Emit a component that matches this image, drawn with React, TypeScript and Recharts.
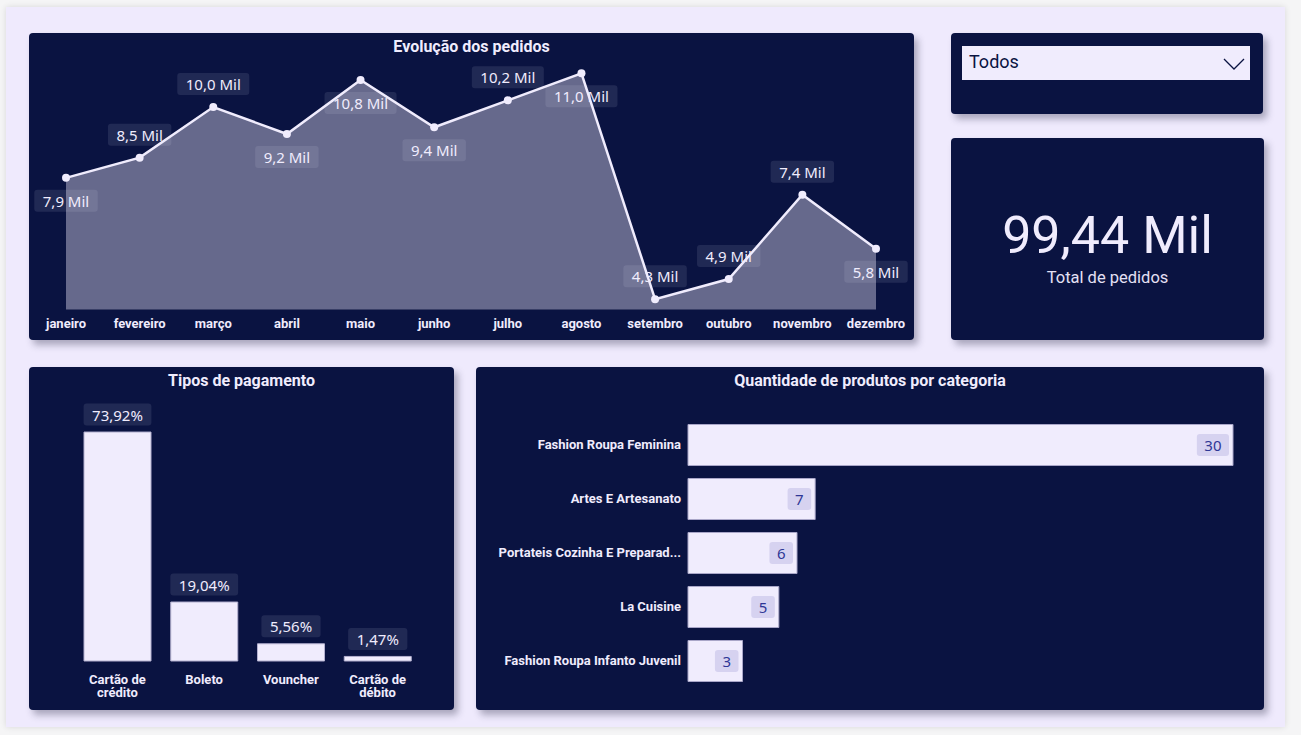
import React from 'react';
import { AreaChart, Area, BarChart, Bar, XAxis, YAxis, LabelList } from 'recharts';

// Evolução dos pedidos (milhares)
const MONTHS = ['janeiro', 'fevereiro', 'março', 'abril', 'maio', 'junho', 'julho', 'agosto', 'setembro', 'outubro', 'novembro', 'dezembro'];
const ORDERS_K = [7.9, 8.5, 10.0, 9.2, 10.8, 9.4, 10.2, 11.0, 4.3, 4.9, 7.4, 5.8];
// months whose label sits under the point (Power BI collision placement)
const LABEL_BELOW = ['janeiro', 'abril', 'maio', 'junho', 'agosto', 'dezembro'];

// Tipos de pagamento (%)
const PAYMENT_TYPES = ['Cartão de crédito', 'Boleto', 'Vouncher', 'Cartão de débito'];
const PAYMENT_SHARE = [73.92, 19.04, 5.56, 1.47];

// Quantidade de produtos por categoria
const CATEGORIES = ['Fashion Roupa Feminina', 'Artes E Artesanato', 'Portateis Cozinha E Preparadores De Alimentos', 'La Cuisine', 'Fashion Roupa Infanto Juvenil'];
const CATEGORY_QTY = [30, 7, 6, 5, 3];

const TOTAL_ORDERS_K = 99.44;
const SLICER_VALUE = 'Todos';

const NAVY = '#0a1341';
const LAVENDER = '#f0ecfd';
const DIN = "Roboto, 'Noto Sans', sans-serif";
const SEGOE = "'Noto Sans', 'Open Sans', sans-serif";
const LABEL_FONT = `15px 'Noto Sans'`;
const TICK_SIZE = 13;

const ordersData = MONTHS.map((m, i) => ({ mes: m, pedidos: ORDERS_K[i] }));
const paymentData = PAYMENT_TYPES.map((t, i) => ({ tipo: t, share: PAYMENT_SHARE[i] }));
const categoryData = CATEGORIES.map((c, i) => ({ categoria: c, qtd: CATEGORY_QTY[i] }));

const fmtMil = (v: number) => v.toFixed(1).replace('.', ',') + ' Mil';
const fmtPct = (v: number) => v.toFixed(2).replace('.', ',') + '%';

let ctx: CanvasRenderingContext2D | null = null;
const textWidth = (s: string, font: string) => {
  if (!ctx) ctx = document.createElement('canvas').getContext('2d');
  if (!ctx) return s.length * 8;
  ctx.font = font;
  return ctx.measureText(s).width;
};

const LabelBox = ({ cx, cy, text, pad = 8.5, bg = LAVENDER, bgOpacity = 0.1, color = LAVENDER }: any) => {
  const w = textWidth(text, LABEL_FONT) + pad * 2;
  const h = 22;
  return (
    <g>
      <rect x={cx - w / 2} y={cy - h / 2} width={w} height={h} rx={3} fill={bg} fillOpacity={bgOpacity} />
      <text x={cx} y={cy} textAnchor="middle" dominantBaseline="central" fill={color} fontSize={15} fontFamily={SEGOE}>
        {text}
      </text>
    </g>
  );
};

const OrdersLabel = (props: any) => {
  const x = props.x ?? props.viewBox?.x;
  const y = props.y ?? props.viewBox?.y;
  const below = LABEL_BELOW.includes(MONTHS[props.index]);
  return <LabelBox cx={x} cy={below ? y + 23 : y - 23} text={fmtMil(props.value)} />;
};

const MonthTick = ({ x, y, payload }: any) => (
  <text x={x} y={y + 14} textAnchor="middle" dominantBaseline="central" fill={LAVENDER} fontSize={TICK_SIZE} fontWeight={700} fontFamily={DIN}>
    {payload.value}
  </text>
);

const PaymentLabel = (props: any) => {
  const { x, y, width, value } = props;
  return <LabelBox cx={x + width / 2} cy={y - 6 - 11.5} text={fmtPct(value)} />;
};

const wrap = (s: string, max: number, font: string) => {
  const lines: string[] = [];
  let cur = '';
  s.split(' ').forEach((w) => {
    const next = cur ? cur + ' ' + w : w;
    if (cur && textWidth(next, font) > max) {
      lines.push(cur);
      cur = w;
    } else cur = next;
  });
  if (cur) lines.push(cur);
  return lines;
};

const PaymentTick = ({ x, y, payload }: any) => {
  const lines = wrap(payload.value, 64, `700 ${TICK_SIZE}px Roboto`);
  return (
    <text x={x} y={y + 19} textAnchor="middle" fill={LAVENDER} fontSize={TICK_SIZE} fontWeight={700} fontFamily={DIN}>
      {lines.map((l, i) => (
        <tspan key={i} x={x} dy={i === 0 ? 4 : 13}>
          {l}
        </tspan>
      ))}
    </text>
  );
};

const CategoryTick = ({ x, y, payload }: any) => {
  const s: string = payload.value;
  const text = s.length > 30 ? s.slice(0, 28) + '...' : s;
  return (
    <text x={x - 7} y={y} textAnchor="end" dominantBaseline="central" fill={LAVENDER} fontSize={TICK_SIZE} fontWeight={700} fontFamily={DIN}>
      {text}
    </text>
  );
};

const CategoryLabel = (props: any) => {
  const { x, y, width, height, value } = props;
  const text = String(value);
  const w = textWidth(text, LABEL_FONT) + 15;
  return <LabelBox cx={x + width - 4 - w / 2} cy={y + height / 2} text={text} pad={7.5} bg="#d6d2f0" bgOpacity={1} color="#2f3796" />;
};

const card = (left: number, top: number, width: number, height: number): React.CSSProperties => ({
  position: 'absolute',
  left,
  top,
  width,
  height,
  background: NAVY,
  borderRadius: 4,
  boxShadow: '4px 5px 7px rgba(40,40,70,0.35)',
});

const titleStyle: React.CSSProperties = {
  position: 'absolute',
  left: 0,
  right: 0,
  top: 3,
  textAlign: 'center',
  color: LAVENDER,
  fontFamily: DIN,
  fontWeight: 700,
  fontSize: 16,
  lineHeight: '21px',
  zIndex: 1,
};

export default function App() {
  return (
    <div style={{ position: 'absolute', left: 0, top: 0, width: 1301, height: 735, background: '#f5f5f6', overflow: 'hidden' }}>
      <div style={{ position: 'absolute', left: 6, top: 7, width: 1279, height: 720, background: '#efeafd', boxShadow: '0 0 6px rgba(0,0,0,0.12)' }} />

      {/* Evolução dos pedidos */}
      <div style={card(29, 33, 885, 307)}>
        <div style={titleStyle}>Evolução dos pedidos</div>
        <AreaChart width={885} height={307} data={ordersData} margin={{ top: 6.6, right: 38, bottom: 0, left: 37 }} style={{ position: 'absolute', left: 0, top: 0 }}>
          <XAxis dataKey="mes" axisLine={false} tickLine={false} tickSize={0} tickMargin={0} height={30.6} interval={0} tick={<MonthTick />} />
          <YAxis hide domain={[4, 12]} />
          <Area
            type="linear"
            dataKey="pedidos"
            baseValue="dataMin"
            stroke={LAVENDER}
            strokeWidth={2.5}
            fill={LAVENDER}
            fillOpacity={0.4}
            dot={{ r: 4, fill: LAVENDER, stroke: 'none', fillOpacity: 1 }}
            activeDot={false}
            isAnimationActive={false}
          >
            <LabelList dataKey="pedidos" content={OrdersLabel} />
          </Area>
        </AreaChart>
      </div>

      {/* Slicer */}
      <div style={card(951, 33, 312, 81)}>
        <div style={{ position: 'absolute', left: 11, top: 13, width: 288, height: 34, background: LAVENDER }}>
          <span style={{ position: 'absolute', left: 7, top: 5, fontFamily: DIN, fontSize: 18, fontWeight: 400, color: NAVY }}>{SLICER_VALUE}</span>
          <svg width={22} height={14} style={{ position: 'absolute', left: 261, top: 11 }}>
            <polyline points="1,2 11,12 21,2" fill="none" stroke={NAVY} strokeWidth={1.3} />
          </svg>
        </div>
      </div>

      {/* KPI */}
      <div style={card(951, 138, 313, 202)}>
        <div style={{ position: 'absolute', left: 0, right: 0, top: 68, textAlign: 'center', fontFamily: DIN, fontSize: 52, lineHeight: '60px', color: LAVENDER }}>
          {TOTAL_ORDERS_K.toFixed(2).replace('.', ',')} Mil
        </div>
        <div style={{ position: 'absolute', left: 0, right: 0, top: 129, textAlign: 'center', fontFamily: DIN, fontSize: 16.5, lineHeight: '22px', color: '#e4e0f4' }}>
          Total de pedidos
        </div>
      </div>

      {/* Tipos de pagamento */}
      <div style={card(29, 367, 425, 343)}>
        <div style={titleStyle}>Tipos de pagamento</div>
        <BarChart width={425} height={343} data={paymentData} margin={{ top: 46.2, right: 33, bottom: 0, left: 45 }} style={{ position: 'absolute', left: 0, top: 0 }}>
          <XAxis dataKey="tipo" axisLine={false} tickLine={false} tickSize={0} tickMargin={0} height={49} interval={0} tick={<PaymentTick />} />
          <YAxis hide domain={[0, 80]} />
          <Bar dataKey="share" fill={LAVENDER} stroke="#b3b0cf" strokeWidth={1} barSize={67} isAnimationActive={false}>
            <LabelList dataKey="share" content={PaymentLabel} />
          </Bar>
        </BarChart>
      </div>

      {/* Quantidade de produtos por categoria */}
      <div style={card(476, 367, 788, 343)}>
        <div style={titleStyle}>Quantidade de produtos por categoria</div>
        <BarChart layout="vertical" width={788} height={343} data={categoryData} margin={{ top: 50.5, right: 31, bottom: 22.5, left: 12 }} style={{ position: 'absolute', left: 0, top: 0 }}>
          <XAxis type="number" hide domain={[0, 30]} />
          <YAxis type="category" dataKey="categoria" width={200} axisLine={false} tickLine={false} tickSize={0} tickMargin={0} interval={0} tick={<CategoryTick />} />
          <Bar dataKey="qtd" fill={LAVENDER} stroke="#a9a6c8" strokeWidth={1} barSize={41} isAnimationActive={false}>
            <LabelList dataKey="qtd" content={CategoryLabel} />
          </Bar>
        </BarChart>
      </div>
    </div>
  );
}
